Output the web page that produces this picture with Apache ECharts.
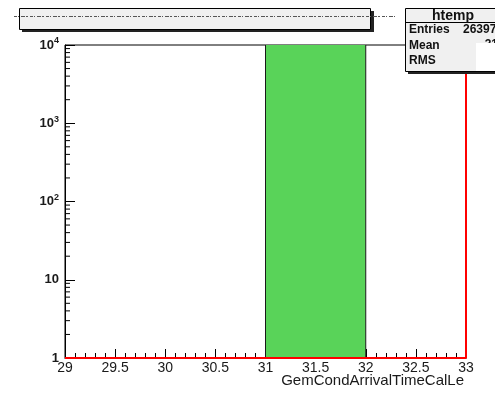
<!DOCTYPE html>
<html>
<head>
<meta charset="utf-8">
<script src="https://cdn.jsdelivr.net/npm/echarts@6/dist/echarts.min.js"></script>
<style>
  html, body { margin: 0; padding: 0; background: #fff; }
  #chart { width: 495px; height: 394px; }
</style>
</head>
<body>
<div id="chart"></div>
<script>
// Histogram htemp: GemCondArrivalTimeCalLe, log-scaled counts
const binLow = [31];
const binHigh = [32];
const binCounts = [26397];

// Outline histogram drawn in red (empty bins, last edge at the upper limit)
const outlineX = [29, 33, 33];
const outlineY = [1, 1, 100000];

// Axis ranges and tick labels
const xMin = 29, xMax = 33, xStep = 0.5;
const xTitle = 'GemCondArrivalTimeCalLe';
const yTickValues = [1, 10, 100, 1000, 10000];
const yTickLabels = ['1', '10', '10^2', '10^3', '10^4'];
const yMinorValues = [2,3,4,5,6,7,8,9, 20,30,40,50,60,70,80,90,
                      200,300,400,500,600,700,800,900, 2000,3000,4000,5000,6000,7000,8000,9000];

// Statistics box
const statsTitle = 'htemp';
const statsNames = ['Entries', 'Mean', 'RMS'];
const statsValues = ['26397', '31.5', ''];

const FONT = '"Liberation Sans", Arial, sans-serif';

const chart = echarts.init(document.getElementById('chart'), null, { renderer: 'canvas' });

function yLabel(v) {
  const i = yTickValues.indexOf(v);
  if (i < 0) return '';
  const s = yTickLabels[i];
  if (s.indexOf('^') >= 0) {
    const p = s.split('^');
    return '{b|' + p[0] + '}{sup|' + p[1] + '}';
  }
  return '{b|' + s + '}';
}

const binData = binLow.map((lo, i) => [lo, binHigh[i], binCounts[i]]);
const outlineData = outlineX.map((x, i) => [x, outlineY[i]]);
const minorData = yMinorValues.map(v => [xMin, v]);

chart.setOption({
  animation: false,
  grid: {
    left: 65, right: 29, top: 45, bottom: 36,
    containLabel: false, outerBoundsMode: 'none',
    show: true, borderColor: '#000', borderWidth: 1, backgroundColor: '#fff'
  },
  xAxis: {
    type: 'value', min: xMin, max: xMax, interval: xStep,
    axisLine: { show: true, lineStyle: { color: '#000', width: 1 } },
    axisTick: { show: true, inside: true, length: 9, lineStyle: { color: '#000' } },
    minorTick: { show: true, splitNumber: 5, length: 5, lineStyle: { color: '#000' } },
    splitLine: { show: false },
    axisLabel: {
      margin: 3, fontFamily: FONT, fontSize: 14, color: '#1a1a1a',
      formatter: v => String(Math.round(v * 10) / 10)
    }
  },
  yAxis: {
    type: 'log', min: 1, max: 10000, logBase: 10,
    axisLine: { show: true, lineStyle: { color: '#000', width: 1 } },
    axisTick: { show: true, inside: true, length: 10, lineStyle: { color: '#000' } },
    splitLine: { show: false },
    axisLabel: {
      margin: 6, formatter: yLabel,
      rich: {
        b: { fontFamily: FONT, fontSize: 13, fontWeight: 'bold', color: '#1a1a1a' },
        sup: { fontFamily: FONT, fontSize: 9, fontWeight: 'bold', color: '#1a1a1a', verticalAlign: 'top', padding: [0, 0, 8, 0] }
      }
    }
  },
  series: [
    {
      // filled bins
      type: 'custom',
      clip: true,
      data: binData,
      encode: { x: [0, 1], y: 2 },
      renderItem: function (params, api) {
        const p0 = api.coord([api.value(0), 1]);
        const p1 = api.coord([api.value(1), api.value(2)]);
        return {
          type: 'rect',
          shape: { x: p0[0], y: p1[1], width: p1[0] - p0[0], height: p0[1] - p1[1] },
          style: { fill: '#59d359', stroke: '#1a1a1a', lineWidth: 1 }
        };
      },
      z: 2
    },
    {
      // logarithmic minor ticks on the y axis
      type: 'custom',
      clip: false,
      data: minorData,
      renderItem: function (params, api) {
        const p = api.coord([api.value(0), api.value(1)]);
        return {
          type: 'line',
          shape: { x1: p[0], y1: p[1], x2: p[0] + 5, y2: p[1] },
          style: { stroke: '#000', lineWidth: 1 }
        };
      },
      z: 3
    },
    {
      type: 'line',
      data: outlineData,
      showSymbol: false,
      symbol: 'none',
      clip: true,
      lineStyle: { color: '#ff0000', width: 2 },
      z: 4
    }
  ],
  graphic: [
    // x axis title, right-aligned under the axis end
    { type: 'text', z: 12, style: { x: 464, y: 373, text: xTitle, font: '15px ' + FONT, fill: '#1a1a1a', align: 'right', verticalAlign: 'top' } },
    // title pad with shadow
    { type: 'rect', z: 10, shape: { x: 22, y: 11, width: 352, height: 21 }, style: { fill: '#222' } },
    { type: 'rect', z: 11, shape: { x: 19.5, y: 8.5, width: 351, height: 21 }, style: { fill: '#f0f0f0', stroke: '#000', lineWidth: 1 } },
    { type: 'line', z: 12, shape: { x1: 14, y1: 16.5, x2: 395, y2: 16.5 }, style: { stroke: '#555', lineWidth: 1, lineDash: [3, 1, 1, 2, 4, 1, 2, 2] } },
    // statistics box with shadow
    { type: 'rect', z: 10, shape: { x: 408, y: 11, width: 100, height: 63 }, style: { fill: '#222' } },
    { type: 'rect', z: 11, shape: { x: 405.5, y: 8.5, width: 100, height: 63 }, style: { fill: '#f0f0f0', stroke: '#000', lineWidth: 1 } },
    { type: 'line', z: 12, shape: { x1: 405.5, y1: 22.5, x2: 495, y2: 22.5 }, style: { stroke: '#000', lineWidth: 1 } },
    { type: 'text', z: 12, style: { x: 453, y: 16, text: statsTitle, font: 'bold 14px ' + FONT, fill: '#111', align: 'center', verticalAlign: 'middle' } },
    { type: 'text', z: 12, style: { x: 409, y: 30, text: statsNames[0], font: 'bold 12px ' + FONT, fill: '#111', verticalAlign: 'middle' } },
    { type: 'text', z: 12, style: { x: 463, y: 30, text: statsValues[0], font: 'bold 12px ' + FONT, fill: '#111', verticalAlign: 'middle' } },
    { type: 'text', z: 12, style: { x: 409, y: 46, text: statsNames[1], font: 'bold 12px ' + FONT, fill: '#111', verticalAlign: 'middle' } },
    { type: 'text', z: 12, style: { x: 508, y: 45, text: statsValues[1], font: 'bold 12px ' + FONT, fill: '#111', align: 'right', verticalAlign: 'middle' } },
    { type: 'text', z: 12, style: { x: 409, y: 61, text: statsNames[2], font: 'bold 12px ' + FONT, fill: '#111', verticalAlign: 'middle' } },
    { type: 'rect', z: 13, shape: { x: 476, y: 43, width: 19, height: 28 }, style: { fill: '#fff' } }
  ]
});
</script>
</body>
</html>
